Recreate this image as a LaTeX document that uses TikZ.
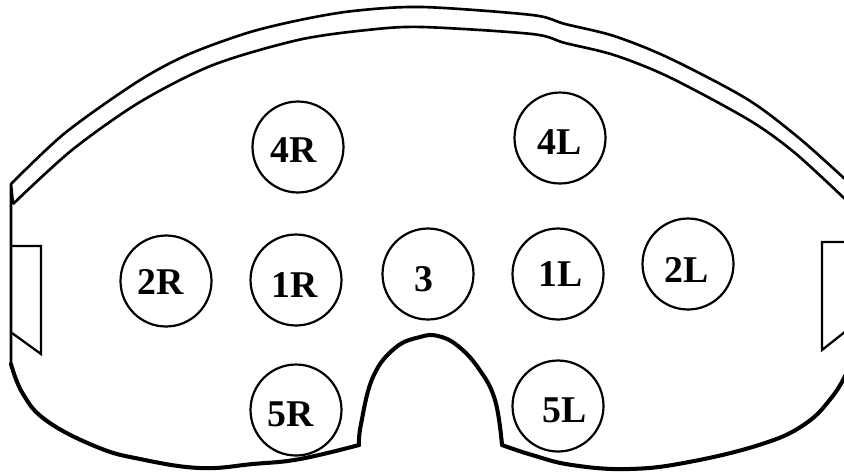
\documentclass[tikz,border=0pt]{standalone}
\usepackage{fontspec}
\setmainfont{Liberation Serif}
\tikzstyle{pad} = [circle, minimum size=1.82cm, inner sep=0pt, draw=black, line width=1.25pt]
\tikzstyle{tag} = [inner sep=0pt, font=\fontsize{21.5}{21.5}\selectfont\bfseries]
\tikzstyle{rim} = [line width=1.5pt, line join=round]
\tikzstyle{edge} = [line width=2.3pt, line join=round, line cap=round]
\tikzstyle{strap} = [line width=1.3pt, line join=miter]

\begin{document}
\begin{tikzpicture}[x=0.02cm, y=-0.02cm]
\useasboundingbox (0,0) rectangle (844,474);

% outer and inner rim
\draw [rim] plot[smooth, tension=0.5] coordinates {(11,184) (65,133) (137,82) (187,55) (247,33) (300,20) (353,11) (422,7) (532,15) (565,24) (614,36) (669,58) (747,99) (799,138) (846,180)};
\draw [rim] plot[smooth, tension=0.5] coordinates {(13,204) (72,150) (140,102) (213,65) (298,40) (367,30) (422,27) (532,34) (565,43) (614,55) (669,77) (749,120) (795,153) (846,200)};

% side edge and straps
\draw [rim] (13,204) -- (11,184) -- (11,364);
\draw [strap] (12,246) -- (41,246) -- (41,354) -- (12,333);
\draw [strap] (846,242) -- (822,242) -- (822,350) -- (846,331);

% bottom edge
\draw [edge] plot[smooth, tension=0.7] coordinates {(11,364) (23,394) (47,421) (97,447) (140,459) (200,468) (253,464) (300,459) (359,445)};
\draw [edge] plot[smooth, tension=0.7] coordinates {(359,445) (361,424) (373,377) (395,348) (420,337) (438,336) (458,346) (479,369) (495,400) (502,445)};
\draw [edge] plot[smooth, tension=0.7] coordinates {(502,445) (532,455) (572,465) (629,469) (689,462) (762,444) (805,424) (832,397) (846,374)};

% pads
\node (pad4R) [pad] at (298,147) {};
\node (pad4L) [pad] at (560,138) {};
\node (pad2R) [pad] at (166,281) {};
\node (pad1R) [pad] at (296,280) {};
\node (pad3) [pad] at (428,274) {};
\node (pad1L) [pad] at (558,274) {};
\node (pad2L) [pad] at (688,264) {};
\node (pad5R) [pad] at (296,410) {};
\node (pad5L) [pad] at (558,406) {};

% labels
\node (tag4R) [tag] at (294,150) {4R};
\node (tag4L) [tag] at (560,142) {4L};
\node (tag2R) [tag] at (161,282) {2R};
\node (tag1R) [tag] at (295,285) {1R};
\node (tag3) [tag] at (424,279) {3};
\node (tag1L) [tag] at (561,274) {1L};
\node (tag2L) [tag] at (687,270) {2L};
\node (tag5R) [tag] at (291,414) {5R};
\node (tag5L) [tag] at (565,410) {5L};

\end{tikzpicture}
\end{document}
